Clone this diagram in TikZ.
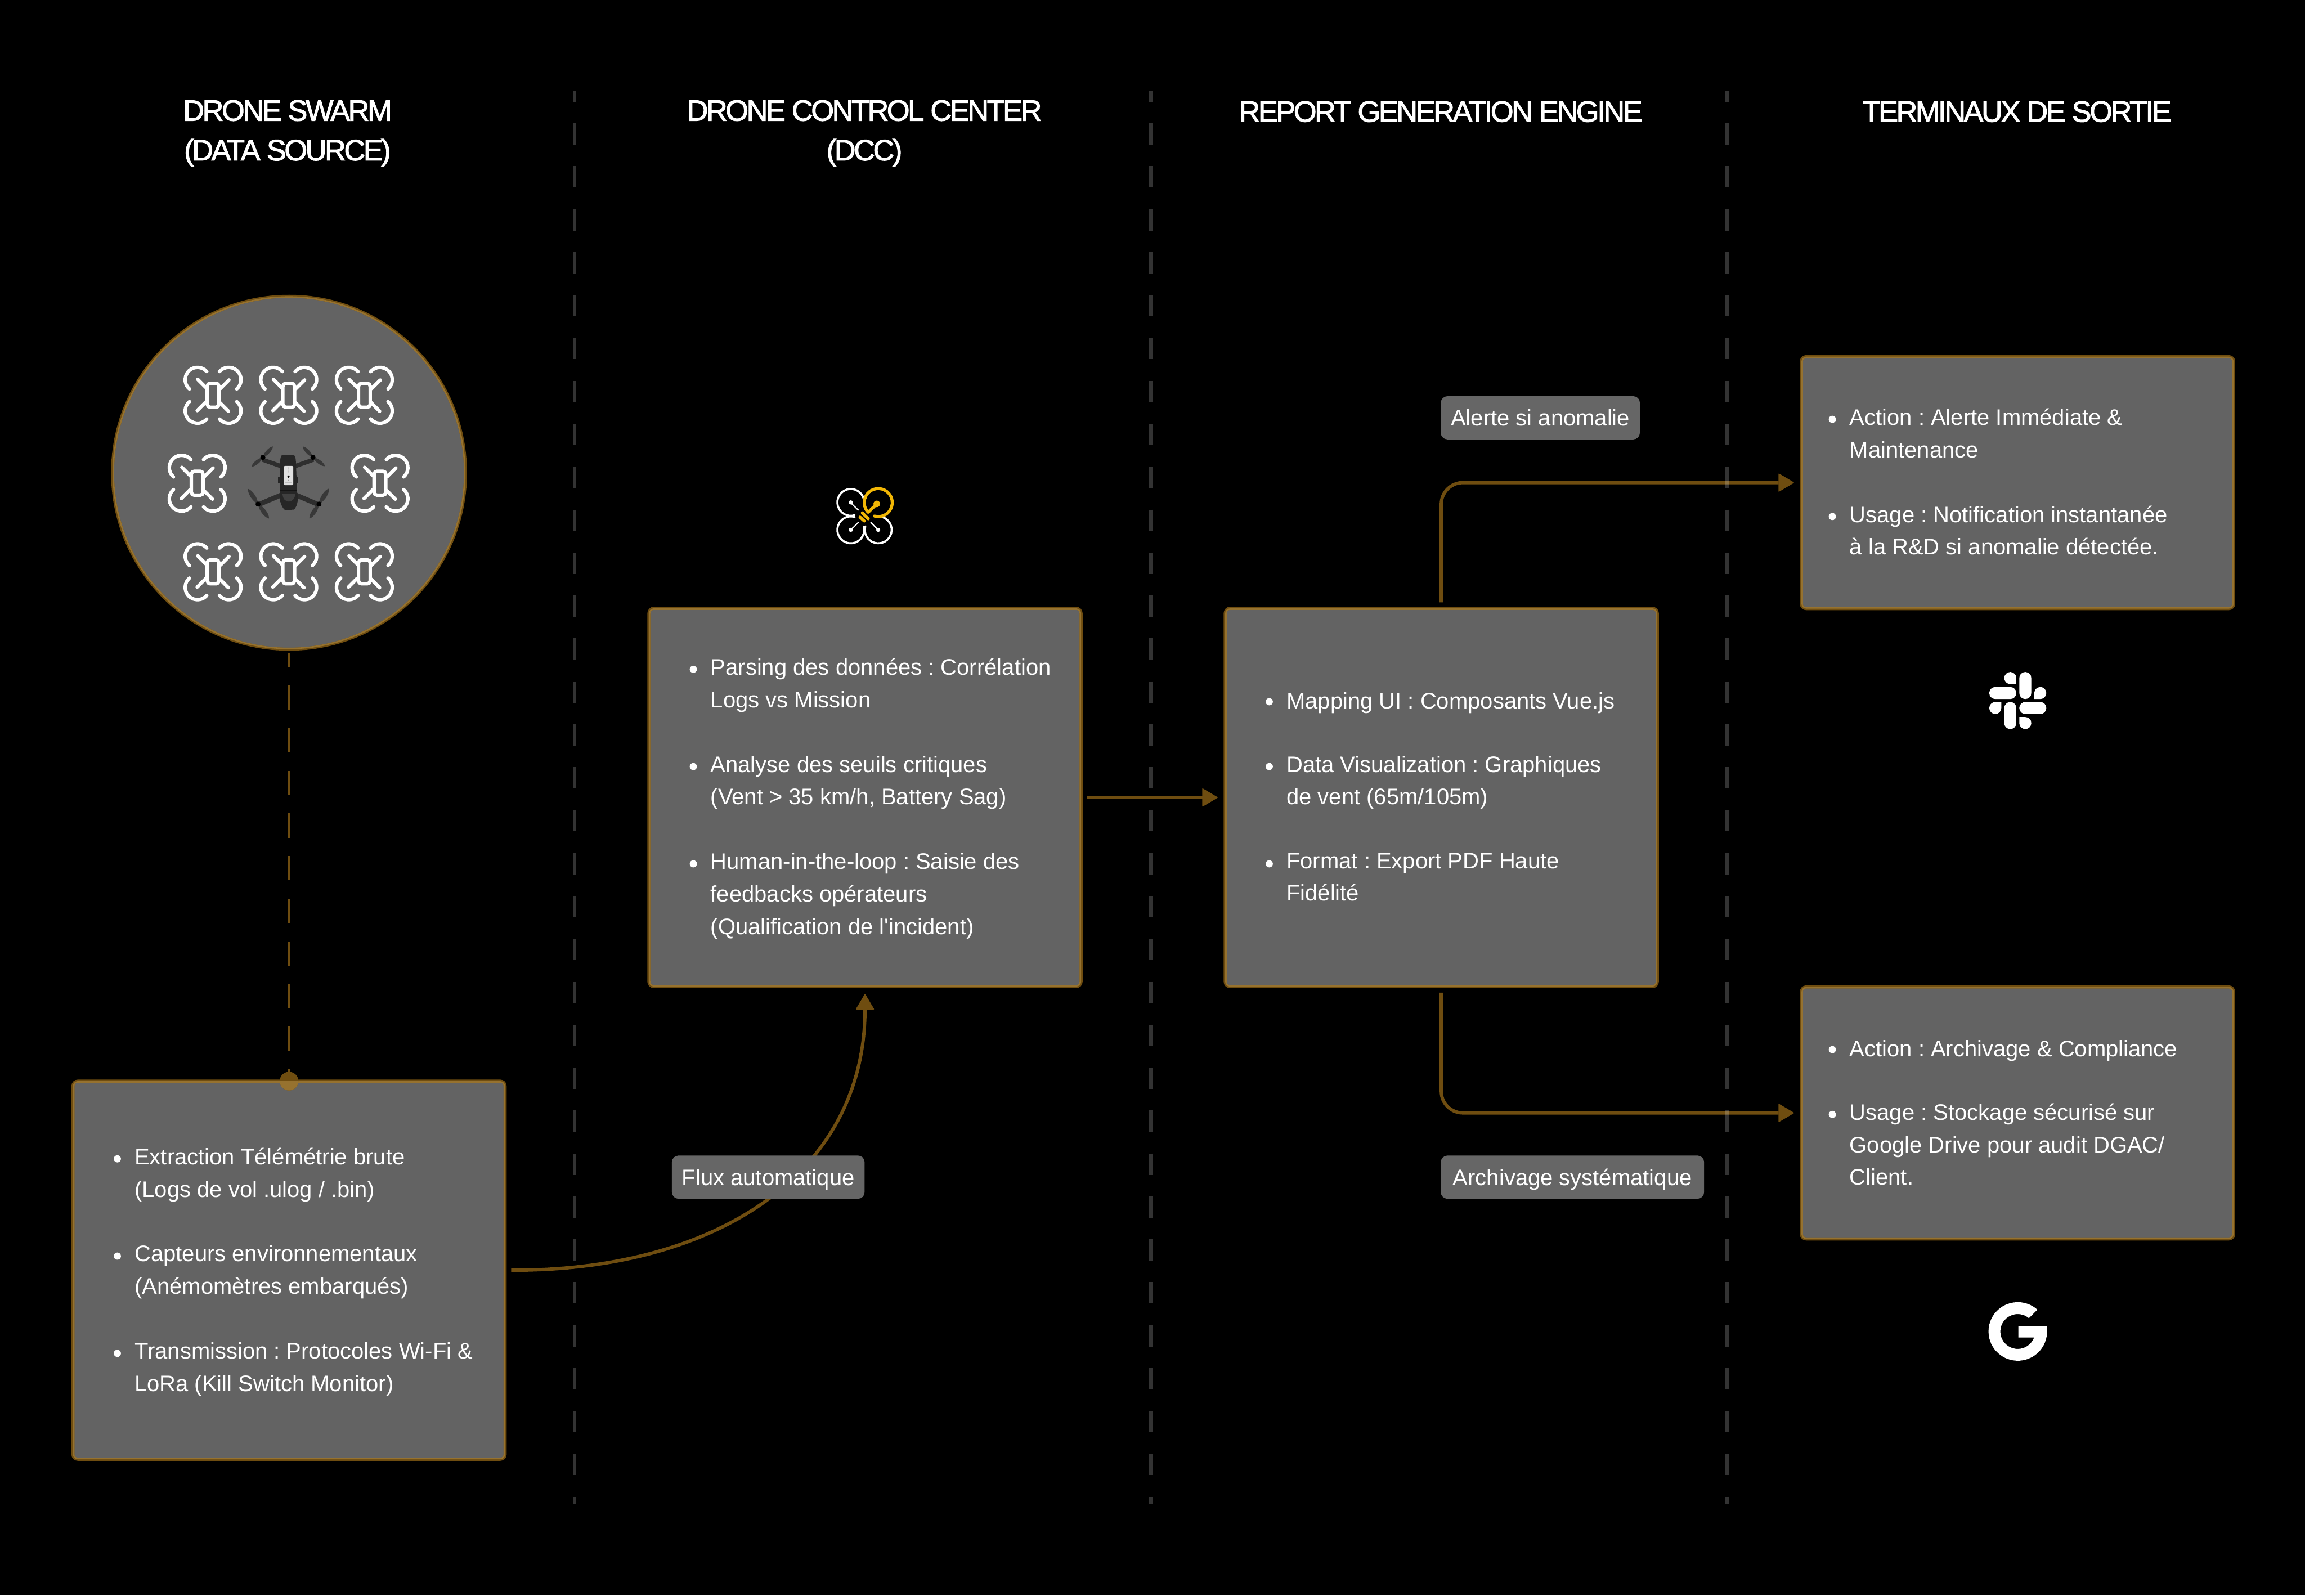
\documentclass[tikz,border=0pt]{standalone}
\usepackage{fontspec}
\usepackage{tikz}
\usetikzlibrary{arrows.meta}
\setmainfont{Liberation Sans}
\newfontfamily\bodyfont{Liberation Sans}
\newfontfamily\headfont{Liberation Sans}[LetterSpace=-6.5,FakeBold=2]
\frenchspacing
\definecolor{flowbrown}{HTML}{6F4D10}
\definecolor{rimbrown}{HTML}{96722F}
\definecolor{panelgray}{HTML}{636363}
\definecolor{chipgray}{HTML}{666666}
\definecolor{dccyellow}{HTML}{F2B705}
\tikzset{
    panel/.style={draw=flowbrown,fill=panelgray,line width=.1cm,rounded corners=.16cm,outer sep=0pt,inner sep=0pt},
    rim/.style={draw=rimbrown,line width=.05cm,rounded corners=.14cm},
    chip/.style={fill=chipgray,text=white,rounded corners=.22cm,minimum height=1.44cm,inner xsep=0pt,inner ysep=0pt,text height=.54cm,text depth=0pt,anchor=west,font={\bodyfont\fontsize{21.34}{30.73}\selectfont\frenchspacing}},
    head/.style={text=white,anchor=north,inner sep=0pt,align=center,font={\headfont\fontsize{27.9}{37.55}\selectfont},execute at begin node={\rule{0pt}{.75cm}}},
    itemtext/.style={text=white,anchor=north west,inner sep=0pt,align=left,font={\bodyfont\fontsize{21.34}{30.73}\selectfont\frenchspacing},execute at begin node={\rule{0pt}{.7cm}}},
    flow/.style={draw=flowbrown,line width=.11cm,-{Triangle[length=.53cm,width=.62cm,line width=.03cm,round]},shorten >=.25cm,shorten <=.2cm},
    divider/.style={draw=white,draw opacity=.2,line width=.11cm,dash pattern=on .71cm off .72cm,dash phase=.35cm},
    swarmicon/.pic={
        \foreach \a in {0,90,180,270} {
            \draw[white,line width=.115cm,line cap=round,rotate=\a] (-.52,.52) ++(41:.41) arc[start angle=41,end angle=229,radius=.41];
            \draw[white,line width=.115cm,line cap=round,rotate=\a] (-.51,.53) -- (-.22,.24);
        }
        \draw[white,line width=.115cm,rounded corners=.1cm,fill=panelgray] (-.195,-.40) rectangle (.195,.40);
    }
}
% one bullet line group: top offset, name, text x, first baseline
\newcommand{\bodyitem}[5][.585]{
    \fill[white] ({#3-.57},{-#4+.22}) circle (.12);
    \node[itemtext] (#2) at (#3,{-#4+#1}) {#5};
}
% one propeller blade: hub x, hub y, tip x, tip y
\newcommand{\droneblade}[4]{
    \fill[black!78!white] (#1,#2) .. controls ({#1+.35*(#3-#1)-.2*(#4-#2)},{#2+.35*(#4-#2)+.2*(#3-#1)}) and ({#1+.85*(#3-#1)-.14*(#4-#2)},{#2+.85*(#4-#2)+.14*(#3-#1)}) .. (#3,#4) .. controls ({#1+.85*(#3-#1)+.14*(#4-#2)},{#2+.85*(#4-#2)-.14*(#3-#1)}) and ({#1+.35*(#3-#1)+.2*(#4-#2)},{#2+.35*(#4-#2)-.2*(#3-#1)}) .. cycle;
}
\begin{document}
\begin{tikzpicture}
    \fill[black] (0,0) rectangle (76.8,-53.16);

    % column titles
    \node[head] (titleswarm) at (9.58,-3.33) {DRONE SWARM\\(DATA SOURCE)};
    \node[head] (titledcc) at (28.80,-3.33) {DRONE CONTROL CENTER\\(DCC)};
    \node[head] (titlereport) at (48.00,-3.30) {REPORT GENERATION ENGINE};
    \node[head] (titleout) at (67.20,-3.30) {TERMINAUX DE SORTIE};

    % panels
    \node[panel,circle,minimum size=11.76cm] (swarm) at (9.63,-15.75) {};
    \draw[draw=rimbrown,line width=.05cm] (swarm) circle (5.855);
    \node[panel,minimum width=14.4cm,minimum height=12.6cm] (source) at (9.63,-42.32) {};
    \node[panel,minimum width=14.4cm,minimum height=12.6cm] (dcc) at (28.82,-26.57) {};
    \node[panel,minimum width=14.4cm,minimum height=12.6cm] (report) at (48.02,-26.57) {};
    \node[panel,minimum width=14.4cm,minimum height=8.4cm] (slackbox) at (67.22,-16.08) {};
    \node[panel,minimum width=14.4cm,minimum height=8.4cm] (drivebox) at (67.22,-37.08) {};
    \foreach \n in {source,dcc,report,slackbox,drivebox} {
        \draw[rim] ([shift={(.025,-.025)}]\n.north west) rectangle ([shift={(-.025,.025)}]\n.south east);
    }

    % panel texts
    \bodyitem{srcone}{4.48}{38.83}{Extraction Télémétrie brute\\(Logs de vol .ulog / .bin)}
    \bodyitem{srctwo}{4.48}{42.07}{Capteurs environnementaux\\(Anémomètres embarqués)}
    \bodyitem{srcthree}{4.48}{45.31}{Transmission : Protocoles Wi-Fi \&\\LoRa (Kill Switch Monitor)}
    \bodyitem{dccone}{23.67}{22.52}{Parsing des données : Corrélation\\Logs vs Mission}
    \bodyitem{dcctwo}{23.67}{25.76}{Analyse des seuils critiques\\(Vent > 35 km/h, Battery Sag)}
    \bodyitem{dccthree}{23.67}{29.00}{Human-in-the-loop : Saisie des\\feedbacks opérateurs\\(Qualification de l'incident)}
    \bodyitem[.70]{repone}{42.86}{23.60}{Mapping UI : Composants Vue.js}
    \bodyitem{reptwo}{42.86}{25.76}{Data Visualization : Graphiques\\de vent (65m/105m)}
    \bodyitem{repthree}{42.86}{29.00}{Format : Export PDF Haute\\Fidélité}
    \bodyitem{slackone}{61.62}{14.19}{Action : Alerte Immédiate \&\\Maintenance}
    \bodyitem{slacktwo}{61.62}{17.43}{Usage : Notification instantanée\\à la R\&D si anomalie détectée.}
    \bodyitem[.70]{driveone}{61.62}{35.19}{Action : Archivage \& Compliance}
    \bodyitem{drivetwo}{61.62}{37.35}{Usage : Stockage sécurisé sur\\Google Drive pour audit DGAC/\\Client.}

    % connectors
    \draw[draw=flowbrown,line width=.1cm,dash pattern=on .81cm off .61cm,dash phase=.33cm,shorten <=.12cm] (swarm.south) -- (source.north);
    \fill[flowbrown] (source.north) circle (.31);
    \fill[rimbrown] ([xshift=.31cm]source.north) arc[start angle=0,end angle=-180,radius=.31];
    \draw[flow] (source.east) .. controls (24.00,-42.34) and (28.82,-39.00) .. (dcc.south);
    \draw[flow] (dcc.east) -- (report.west);
    \draw[flow,rounded corners=.72cm] (report.north) |- (slackbox.west);
    \draw[flow,rounded corners=.72cm] (report.south) |- (drivebox.west);

    % flow labels
    \node[chip,minimum width=6.42cm] (fluxlabel) at (22.38,-39.22) {Flux automatique};
    \node[chip,minimum width=6.63cm] (alertlabel) at (48.00,-13.92) {Alerte si anomalie};
    \node[chip,minimum width=8.77cm] (archivelabel) at (48.00,-39.22) {Archivage systématique};

    % swarm icons
    \foreach \x/\y in {7.10/13.17,9.62/13.17,12.14/13.17,6.57/16.10,12.66/16.10,7.10/19.05,9.62/19.05,12.14/19.05} {
        \pic at (\x,-\y) {swarmicon};
    }

    % center drone, coordinates in 1/3 pixels
    \begin{scope}[shift={(7.8,-14.5)},x=.003333cm,y=-.003333cm]
        \foreach \hx/\hy/\ax/\ay/\bx/\by in {288/222/388/113/175/315,790/222/688/113/910/310,240/690/140/538/350/835,850/690/950/535/755/835} {
            \droneblade{\hx}{\hy}{\ax}{\ay}
            \droneblade{\hx}{\hy}{\bx}{\by}
        }
        \draw[black!82!white,line width=.14cm] (285,245) -- (470,310);
        \draw[black!82!white,line width=.14cm] (795,245) -- (610,310);
        \draw[black!82!white,line width=.16cm] (245,695) -- (470,600);
        \draw[black!82!white,line width=.16cm] (845,695) -- (620,600);
        \foreach \hx/\hy in {288/222,790/222,240/690,850/690} {
            \fill[black] (\hx,\hy) circle (.085cm);
        }
        \fill[black!85!white] (490,197) -- (590,197) .. controls (612,197) and (618,230) .. (620,280) -- (630,560) .. controls (645,640) and (640,700) .. (600,745) -- (510,750) .. controls (465,710) and (450,640) .. (458,560) -- (462,280) .. controls (462,230) and (468,197) .. (490,197) -- cycle;
        \fill[black!85!white] (440,420) rectangle (645,480);
        \fill[black!75!white] (485,590) .. controls (490,690) and (605,690) .. (612,590) -- cycle;
        \fill[black!92!white] (460,552) rectangle (632,555);
        \fill[white!88!black,rounded corners=.03cm] (498,308) rectangle (592,500);
        \foreach \dy in {325,336,348,359,370} {
            \fill[black!70!white] (543,\dy) circle (.006cm);
        }
        \draw[black,line width=.012cm] (545,415) circle (.033cm);
        \draw[black,line width=.012cm] (545,402) -- (545,416);
        \fill[black] (545,450) circle (.007cm);
        \fill[black!25!white] (512,465) rectangle (578,476);
    \end{scope}

    % dcc icon, coordinates in 1/3 pixels
    \begin{scope}[shift={(27.0,-19.1)},x=.003333cm,y=.003333cm,line cap=round]
        \draw[white,line width=.067cm] (405,710) ++(17:.447cm) arc[start angle=17,end angle=287,radius=.447cm];
        \draw[white,line width=.067cm] (405,435) ++(73:.447cm) arc[start angle=73,end angle=374,radius=.447cm];
        \draw[white,line width=.067cm] (680,435) ++(165:.447cm) arc[start angle=165,end angle=430,radius=.447cm];
        \fill[white] (405,710) circle (.07cm);
        \fill[white] (405,435) circle (.07cm);
        \fill[white] (680,435) circle (.07cm);
        \draw[white,line width=.04cm] (405,705) -- (480,633);
        \draw[white,line width=.04cm] (405,435) -- (482,510);
        \draw[white,line width=.04cm] (680,433) -- (605,510);
        \draw[dccyellow,line width=.1cm,line join=round] (680,708) ++(254:.467cm) arc[start angle=254,end angle=584,radius=.467cm] -- (665,695);
        \fill[dccyellow] (665,695) circle (.11cm);
        \fill[black] (665,695) circle (.012cm);
        \draw[dccyellow,line width=.1cm] (520,605) -- (580,545);
        \draw[dccyellow,line width=.1cm] (497,563) -- (540,523);
    \end{scope}

    % slack logo
    \begin{scope}[shift={(67.23,-23.34)}]
        \foreach \a in {0,90,180,270} {
            \fill[white,rotate=\a,rounded corners=.199cm] (.05,.05) rectangle (.45,.95);
            \fill[white,rotate=\a] (-.05,.55) -- (-.25,.55) arc[start angle=270,end angle=0,radius=.2] -- cycle;
        }
    \end{scope}

    % google logo
    \begin{scope}[shift={(67.23,-44.36)}]
        \fill[white] (48:.975) arc[start angle=48,end angle=370.4,radius=.975] -- (.017,.177) -- (.017,-.2) -- (.543,-.2) arc[start angle=-20,end angle=-310,radius=.58] -- cycle;
    \end{scope}

    % column separators
    \foreach \x in {19.14,38.34,57.54} {
        \draw[divider] (\x,-3.03) -- (\x,-50.10);
    }
\end{tikzpicture}
\end{document}
